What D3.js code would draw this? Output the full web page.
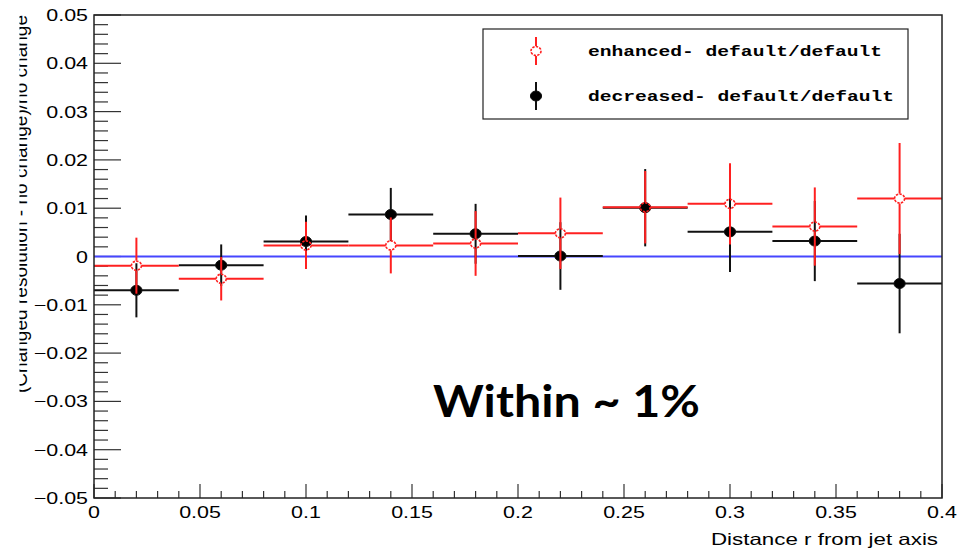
<!DOCTYPE html>
<html>
<head>
<meta charset="utf-8">
<script src="https://cdn.jsdelivr.net/npm/d3@7"></script>
<style>
  body { margin: 0; background: #fff; }
  svg { display: block; }
</style>
</head>
<body>
<svg id="chart" width="973" height="550"></svg>
<script>
// bins of width 0.04 in r
const binCenters = [0.02, 0.06, 0.10, 0.14, 0.18, 0.22, 0.26, 0.30, 0.34, 0.38]
const binHalfWidth = 0.02

const enhanced = [-0.0019, -0.0046, 0.0023, 0.0023, 0.0027, 0.0048, 0.0102, 0.0109, 0.0062, 0.0120]
const enhancedErr = [0.0058, 0.0045, 0.0049, 0.0058, 0.0067, 0.0074, 0.0075, 0.0084, 0.0081, 0.0115]

const decreased = [-0.0070, -0.0018, 0.0031, 0.0087, 0.0047, 0.0001, 0.0101, 0.0051, 0.0032, -0.0056]
const decreasedErr = [0.0056, 0.0043, 0.0054, 0.0055, 0.0062, 0.0070, 0.0080, 0.0083, 0.0083, 0.0103]

const xTicks = [0, 0.05, 0.1, 0.15, 0.2, 0.25, 0.3, 0.35, 0.4]
const xTickLabels = ['0', '0.05', '0.1', '0.15', '0.2', '0.25', '0.3', '0.35', '0.4']
const yTicks = [-0.05, -0.04, -0.03, -0.02, -0.01, 0, 0.01, 0.02, 0.03, 0.04, 0.05]
const yTickLabels = ['\u22120.05', '\u22120.04', '\u22120.03', '\u22120.02', '\u22120.01', '0', '0.01', '0.02', '0.03', '0.04', '0.05']

const legendLabels = ['enhanced- default/default', 'decreased- default/default']

const svg = d3.select('#chart')
const plotLeft = 94, plotRight = 942, plotTop = 15, plotBottom = 498

const x = d3.scaleLinear().domain([0, 0.4]).range([plotLeft, plotRight])
const y = d3.scaleLinear().domain([-0.05, 0.05]).range([plotBottom, plotTop])

const labelFont = '"Liberation Sans", Arial, sans-serif'
const stretch = 1.3   // the picture is a bit wider than tall

// y title is cut by the left edge in the original
svg.append('defs').append('clipPath')
    .attr('id', 'titleClip')
    .append('rect')
    .attr('x', 19.5).attr('y', 0)
    .attr('width', 60).attr('height', 550)

// minor ticks
const xMinor = d3.range(0, 41).map(i => i / 100).filter(v => !xTicks.some(t => Math.abs(t - v) < 1e-9))
const yMinor = d3.range(-25, 26).map(i => i / 500).filter(v => !yTicks.some(t => Math.abs(t - v) < 1e-9))

svg.append('g').selectAll('line')
    .data(xMinor)
    .join('line')
    .attr('x1', d => x(d)).attr('x2', d => x(d))
    .attr('y1', plotBottom).attr('y2', plotBottom - 7)
    .attr('stroke', '#333').attr('stroke-width', 1.2)

svg.append('g').selectAll('line')
    .data(xTicks)
    .join('line')
    .attr('x1', d => x(d)).attr('x2', d => x(d))
    .attr('y1', plotBottom).attr('y2', plotBottom - 14)
    .attr('stroke', '#333').attr('stroke-width', 1.2)

svg.append('g').selectAll('line')
    .data(yMinor)
    .join('line')
    .attr('x1', plotLeft).attr('x2', plotLeft + 14)
    .attr('y1', d => y(d)).attr('y2', d => y(d))
    .attr('stroke', '#333').attr('stroke-width', 1.2)

svg.append('g').selectAll('line')
    .data(yTicks)
    .join('line')
    .attr('x1', plotLeft).attr('x2', plotLeft + 27)
    .attr('y1', d => y(d)).attr('y2', d => y(d))
    .attr('stroke', '#333').attr('stroke-width', 1.2)

// tick labels
svg.append('g').selectAll('text')
    .data(xTicks)
    .join('text')
    .attr('transform', d => 'translate(' + x(d) + ',518) scale(' + stretch + ',1)')
    .attr('text-anchor', 'middle')
    .style('font-family', labelFont)
    .style('font-size', '16.5px')
    .text((d, i) => xTickLabels[i])

svg.append('g').selectAll('text')
    .data(yTicks)
    .join('text')
    .attr('transform', d => 'translate(88,' + (y(d) + 6) + ') scale(' + stretch + ',1)')
    .attr('text-anchor', 'end')
    .style('font-family', labelFont)
    .style('font-size', '16.5px')
    .text((d, i) => yTickLabels[i])

// axis titles
svg.append('text')
    .attr('x', 938)
    .attr('y', 545)
    .attr('text-anchor', 'end')
    .attr('textLength', 227)
    .attr('lengthAdjust', 'spacingAndGlyphs')
    .style('font-family', labelFont)
    .style('font-size', '16.5px')
    .text('Distance r from jet axis')

svg.append('g')
    .attr('clip-path', 'url(#titleClip)')
    .append('text')
    .attr('transform', 'translate(27,' + plotTop + ') rotate(-90)')
    .attr('text-anchor', 'end')
    .attr('textLength', 378)
    .attr('lengthAdjust', 'spacingAndGlyphs')
    .style('font-family', labelFont)
    .style('font-size', '18px')
    .text('(Changed resolution - no change)/no change')

// zero line
svg.append('line')
    .attr('x1', plotLeft).attr('x2', plotRight)
    .attr('y1', y(0)).attr('y2', y(0))
    .attr('stroke', '#4646ff').attr('stroke-width', 2)

const r = 5

function drawMarker(g, cx, cy, color, filled) {
    g.append('ellipse')
        .attr('cx', cx).attr('cy', cy)
        .attr('rx', filled ? r + 0.6 : r).attr('ry', filled ? r : r - 0.5)
        .attr('fill', filled ? '#000' : 'none')
        .attr('stroke', color)
        .attr('stroke-width', filled ? 1 : 1.6)
        .attr('stroke-dasharray', filled ? null : '2.4 1.2')
}

function drawSeries(vals, errs, color, filled) {
    const g = svg.append('g')
    const gap = filled ? 0 : r
    binCenters.forEach((c, i) => {
        const cx = x(c), cy = y(vals[i])
        // horizontal bin width
        g.append('line')
            .attr('x1', x(c - binHalfWidth)).attr('x2', cx - gap)
            .attr('y1', cy).attr('y2', cy)
            .attr('stroke', color).attr('stroke-width', 2)
        g.append('line')
            .attr('x1', cx + gap).attr('x2', x(c + binHalfWidth))
            .attr('y1', cy).attr('y2', cy)
            .attr('stroke', color).attr('stroke-width', 2)
        // vertical error
        g.append('line')
            .attr('x1', cx).attr('x2', cx)
            .attr('y1', y(vals[i] + errs[i])).attr('y2', cy - gap)
            .attr('stroke', color).attr('stroke-width', 2)
        g.append('line')
            .attr('x1', cx).attr('x2', cx)
            .attr('y1', cy + gap).attr('y2', y(vals[i] - errs[i]))
            .attr('stroke', color).attr('stroke-width', 2)
        drawMarker(g, cx, cy, color, filled)
    })
}

drawSeries(decreased, decreasedErr, '#111', true)
drawSeries(enhanced, enhancedErr, '#ff2020', false)

// frame
svg.append('rect')
    .attr('x', plotLeft).attr('y', plotTop)
    .attr('width', plotRight - plotLeft).attr('height', plotBottom - plotTop)
    .attr('fill', 'none')
    .attr('stroke', '#222').attr('stroke-width', 1.5)

// legend
const legend = svg.append('g')
legend.append('rect')
    .attr('x', 483).attr('y', 29)
    .attr('width', 425).attr('height', 90)
    .attr('fill', '#fff')
    .attr('stroke', '#222').attr('stroke-width', 1.2)

const legendRows = [
    { y: 51, color: '#ff2020', filled: false, len: 294 },
    { y: 96, color: '#111', filled: true, len: 306 },
]
legendRows.forEach((row, i) => {
    const gap = row.filled ? 0 : r
    legend.append('line')
        .attr('x1', 536).attr('x2', 536)
        .attr('y1', row.y - 14).attr('y2', row.y - gap)
        .attr('stroke', row.color).attr('stroke-width', 2)
    legend.append('line')
        .attr('x1', 536).attr('x2', 536)
        .attr('y1', row.y + gap).attr('y2', row.y + 14)
        .attr('stroke', row.color).attr('stroke-width', 2)
    drawMarker(legend, 536, row.y, row.color, row.filled)
    legend.append('text')
        .attr('x', 588).attr('y', row.y + 5)
        .attr('textLength', row.len)
        .attr('lengthAdjust', 'spacingAndGlyphs')
        .style('font-family', '"Liberation Mono", "DejaVu Sans Mono", monospace')
        .style('font-weight', 'bold')
        .style('font-size', '15px')
        .text(legendLabels[i])
})

// annotation
svg.append('text')
    .attr('x', 433).attr('y', 417)
    .attr('textLength', 267)
    .attr('lengthAdjust', 'spacingAndGlyphs')
    .style('font-family', 'Lato, "Open Sans", sans-serif')
    .style('font-weight', 'bold')
    .style('font-size', '44px')
    .text('Within ~ 1%')
</script>
</body>
</html>
